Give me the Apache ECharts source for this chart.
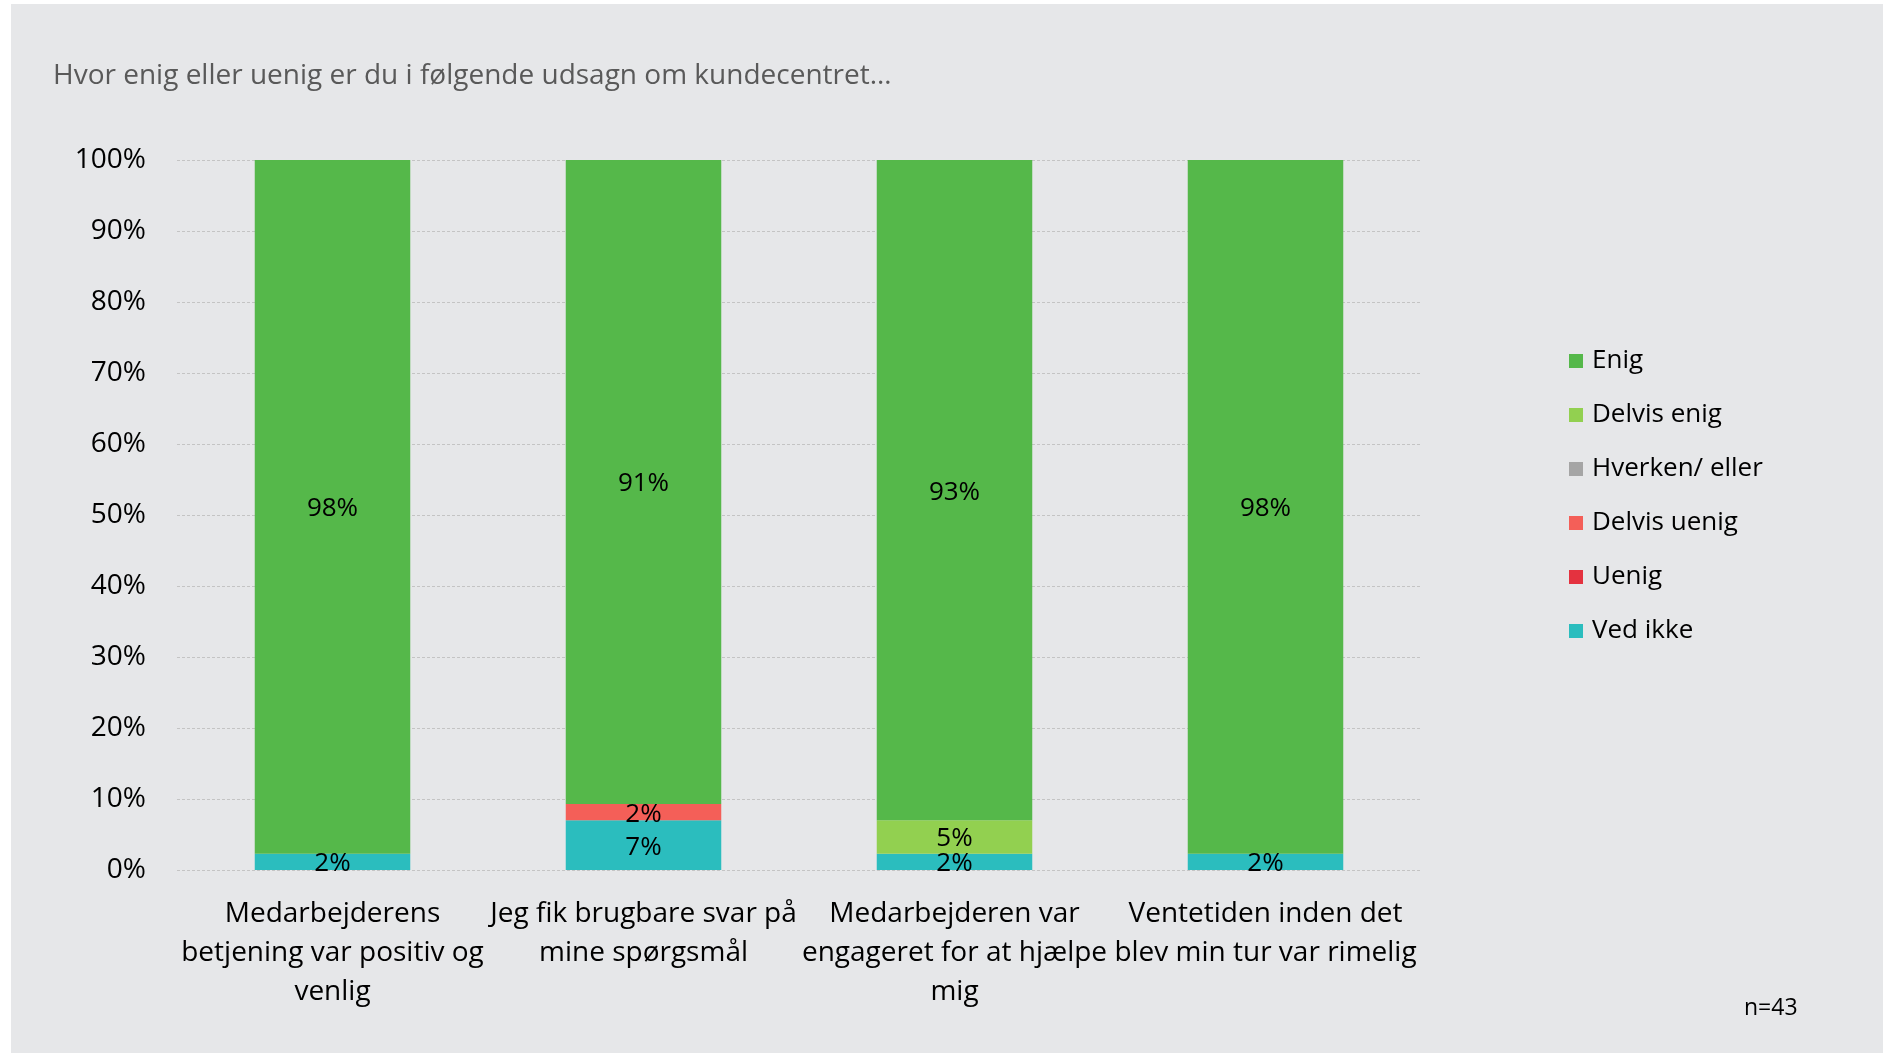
<!DOCTYPE html>
<html>
<head>
<meta charset="utf-8">
<title>Kundecentret</title>
<script src="https://cdn.jsdelivr.net/npm/echarts@6/dist/echarts.min.js"></script>
<style>
    html, body { margin: 0; padding: 0; background: #ffffff; }
    #chart { width: 1887px; height: 1056px; }
</style>
</head>
<body>
<div id="chart"></div>
<script>
    // survey answers, n=43, values in percent
    var categories = [
        'Medarbejderens\nbetjening var positiv og\nvenlig',
        'Jeg fik brugbare svar på\nmine spørgsmål',
        'Medarbejderen var\nengageret for at hjælpe\nmig',
        'Ventetiden inden det\nblev min tur var rimelig'
    ];
    var enig = [97.7, 90.7, 93.0, 97.7];
    var delvisEnig = [0, 0, 4.7, 0];
    var hverken = [0, 0, 0, 0];
    var delvisUenig = [0, 2.3, 0, 0];
    var uenig = [0, 0, 0, 0];
    var vedIkke = [2.3, 7.0, 2.3, 2.3];
    var yTicks = [0, 10, 20, 30, 40, 50, 60, 70, 80, 90, 100];

    var font = '"Open Sans", "Noto Sans", sans-serif';
    var myChart = echarts.init(document.getElementById('chart'));

    function makeSeries(name, data, color) {
        return {
            name: name,
            type: 'bar',
            stack: 'total',
            barWidth: '50%',
            data: data,
            itemStyle: { color: color },
            label: {
                show: true,
                position: 'inside',
                offset: [0, 2],
                color: '#000',
                fontFamily: font,
                fontSize: 26,
                formatter: function (p) {
                    return p.value > 0 ? Math.round(p.value) + '%' : '';
                }
            }
        };
    }

    var option = {
        backgroundColor: '#ffffff',
        graphic: [
            {
                type: 'rect',
                z: -10,
                shape: { x: 11, y: 4, width: 1872, height: 1049 },
                style: { fill: '#e6e7e9' }
            },
            {
                type: 'text',
                left: 1744,
                top: 997,
                style: { text: 'n=43', fill: '#000', font: '23px ' + font }
            }
        ],
        title: {
            text: 'Hvor enig eller uenig er du i følgende udsagn om kundecentret…',
            left: 48,
            top: 57,
            textStyle: { color: '#595959', fontFamily: font, fontSize: 28, fontWeight: 'normal' }
        },
        legend: {
            orient: 'vertical',
            left: 1564,
            top: 339,
            itemWidth: 14,
            itemHeight: 14,
            itemGap: 20,
            icon: 'rect',
            textStyle: { color: '#000', fontFamily: font, fontSize: 26, lineHeight: 34, padding: [0, 0, 0, 4] },
            data: ['Enig', 'Delvis enig', 'Hverken/ eller', 'Delvis uenig', 'Uenig', 'Ved ikke']
        },
        grid: { left: 177, right: 466, top: 160, bottom: 186 },
        xAxis: {
            type: 'category',
            data: categories,
            axisLine: { show: false },
            axisTick: { show: false },
            axisLabel: {
                interval: 0,
                margin: 25,
                color: '#000',
                fontFamily: font,
                fontSize: 28,
                lineHeight: 39
            }
        },
        yAxis: {
            type: 'value',
            min: yTicks[0],
            max: yTicks[yTicks.length - 1],
            interval: 10,
            axisLine: { show: false },
            axisTick: { show: false },
            axisLabel: {
                margin: 31,
                color: '#000',
                fontFamily: font,
                fontSize: 28,
                formatter: '{value}%'
            },
            splitLine: { lineStyle: { color: '#c4c4c4', type: [3, 2], width: 1 } }
        },
        series: [
            makeSeries('Ved ikke', vedIkke, '#2bbdbe'),
            makeSeries('Uenig', uenig, '#e4323f'),
            makeSeries('Delvis uenig', delvisUenig, '#f45f58'),
            makeSeries('Hverken/ eller', hverken, '#a5a5a5'),
            makeSeries('Delvis enig', delvisEnig, '#92d050'),
            makeSeries('Enig', enig, '#55b84a')
        ]
    };
    myChart.setOption(option);
</script>
</body>
</html>
